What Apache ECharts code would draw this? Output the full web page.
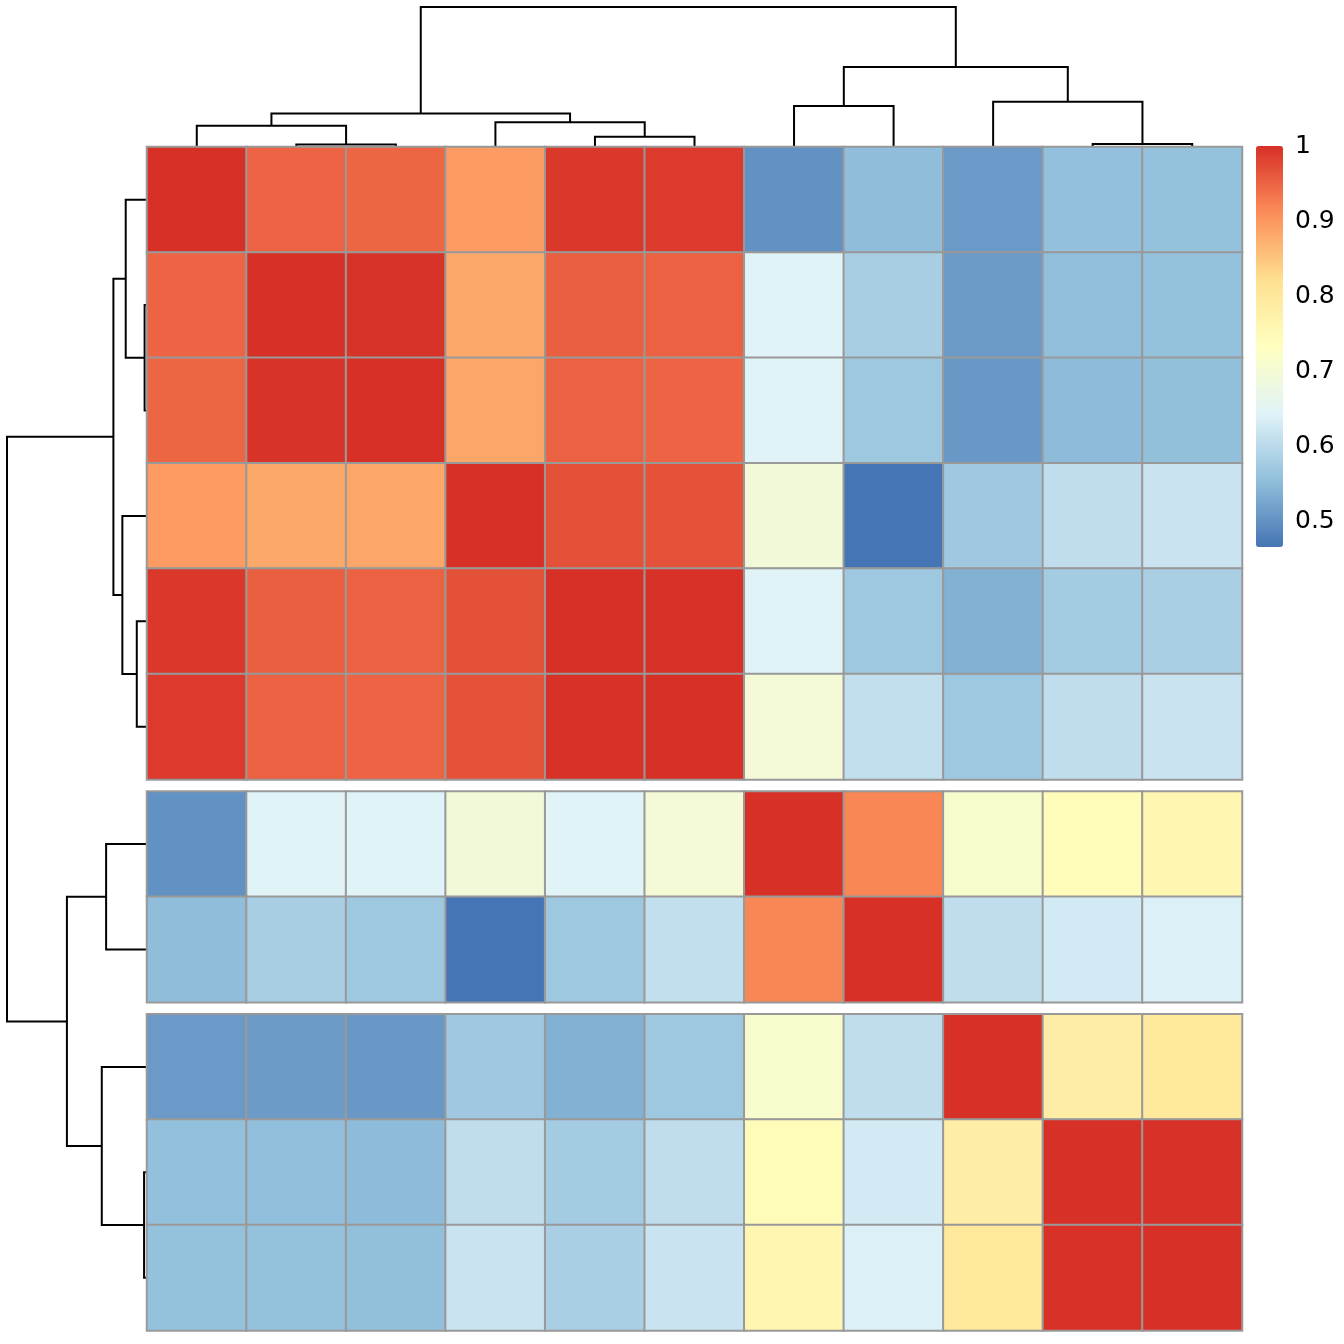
<!DOCTYPE html>
<html>
<head>
<meta charset="utf-8">
<title>heatmap</title>
<script src="https://cdn.jsdelivr.net/npm/echarts@6/dist/echarts.min.js"></script>
<style>
  html, body { margin: 0; padding: 0; background: #fff; }
  #chart { width: 1344px; height: 1344px; }
</style>
</head>
<body>
<div id="chart"></div>
<script>
// correlation matrix, rows and columns in clustered order
const matrix = [
  [1.000, 0.950, 0.948, 0.895, 0.992, 0.990, 0.500, 0.553, 0.511, 0.557, 0.558],
  [0.950, 1.000, 0.997, 0.882, 0.955, 0.953, 0.645, 0.580, 0.512, 0.554, 0.558],
  [0.948, 0.997, 1.000, 0.884, 0.952, 0.950, 0.645, 0.570, 0.508, 0.550, 0.556],
  [0.895, 0.882, 0.884, 1.000, 0.968, 0.967, 0.692, 0.466, 0.572, 0.607, 0.618],
  [0.992, 0.955, 0.952, 0.968, 1.000, 0.998, 0.645, 0.570, 0.538, 0.575, 0.583],
  [0.990, 0.953, 0.950, 0.967, 0.998, 1.000, 0.698, 0.610, 0.570, 0.607, 0.618],
  [0.500, 0.645, 0.645, 0.692, 0.645, 0.698, 1.000, 0.918, 0.713, 0.742, 0.758],
  [0.553, 0.580, 0.570, 0.466, 0.570, 0.610, 0.918, 1.000, 0.607, 0.628, 0.640],
  [0.511, 0.512, 0.508, 0.572, 0.538, 0.570, 0.713, 0.607, 1.000, 0.785, 0.800],
  [0.557, 0.554, 0.550, 0.607, 0.575, 0.607, 0.742, 0.628, 0.785, 1.000, 0.998],
  [0.558, 0.558, 0.556, 0.618, 0.583, 0.618, 0.758, 0.640, 0.800, 0.998, 1.000]
]

// hclust merges: [a, b, height]; id < 11 is a leaf, id 11 + k is merge k
const merges = [
  [1, 2, 0.017],
  [0, 11, 0.152],
  [4, 5, 0.073],
  [3, 13, 0.176],
  [12, 14, 0.240],
  [6, 7, 0.292],
  [9, 10, 0.021],
  [8, 17, 0.323],
  [16, 18, 0.572],
  [15, 19, 1.000]
]

// rows per cluster (cutree_rows = 3)
const rowBlocks = [6, 2, 3]

const legendTicks = [0.5, 0.6, 0.7, 0.8, 0.9, 1]
const colMin = 0.466
const colMax = 1
const palette = ['#4575B4', '#91BFDB', '#E0F3F8', '#FFFFBF', '#FEE090', '#FC8D59', '#D73027']

/* layout */
const N = matrix.length
const L = 147, W = 1095, T = 147
const GAP = 12
const CELL_H = 105.4
const FONT = 'DejaVu Sans'

// block of each row
const rowBlockOf = []
rowBlocks.forEach((n, b) => { for (let i = 0; i < n; i++) rowBlockOf.push(b) })
const gapUnit = GAP / CELL_H
const rowUnits = N + (rowBlocks.length - 1) * gapUnit

/* dendrogram segments */
function dendroSegments(leafPos) {
  const pos = leafPos.slice()
  const hgt = new Array(N).fill(0)
  const segs = []
  merges.forEach(([a, b, h]) => {
    segs.push([pos[a], hgt[a], pos[b], hgt[b], h])
    pos.push((pos[a] + pos[b]) / 2)
    hgt.push(h)
  })
  return segs
}
const colSegs = dendroSegments(matrix.map((_, i) => i))
const rowSegs = dendroSegments(matrix.map((_, i) => i + 0.5 + rowBlockOf[i] * gapUnit))

const chart = echarts.init(document.getElementById('chart'))

const grids = [
  { left: L, top: 7, width: W, height: T - 7 },          // column tree
  { left: 7, top: T, width: L - 7, height: N * CELL_H + GAP * 2 } // row tree
]
const xAxes = [
  { gridIndex: 0, type: 'value', min: -0.5, max: N - 0.5, show: false },
  { gridIndex: 1, type: 'value', min: 0, max: 1, inverse: true, show: false }
]
const yAxes = [
  { gridIndex: 0, type: 'value', min: 0, max: 1, show: false },
  { gridIndex: 1, type: 'value', min: 0, max: rowUnits, inverse: true, show: false }
]
const series = [
  {
    type: 'custom',
    xAxisIndex: 0,
    yAxisIndex: 0,
    data: colSegs,
    silent: true,
    renderItem: (params, api) => {
      const p1 = api.coord([api.value(0), api.value(1)])
      const p2 = api.coord([api.value(0), api.value(4)])
      const p3 = api.coord([api.value(2), api.value(4)])
      const p4 = api.coord([api.value(2), api.value(3)])
      return {
        type: 'polyline',
        shape: { points: [p1, p2, p3, p4] },
        style: { stroke: '#000', lineWidth: 2, fill: null }
      }
    }
  },
  {
    type: 'custom',
    xAxisIndex: 1,
    yAxisIndex: 1,
    data: rowSegs,
    silent: true,
    renderItem: (params, api) => {
      const p1 = api.coord([api.value(1), api.value(0)])
      const p2 = api.coord([api.value(4), api.value(0)])
      const p3 = api.coord([api.value(4), api.value(2)])
      const p4 = api.coord([api.value(3), api.value(2)])
      return {
        type: 'polyline',
        shape: { points: [p1, p2, p3, p4] },
        style: { stroke: '#000', lineWidth: 2, fill: null }
      }
    }
  }
]

// heatmap blocks
const heatIdx = []
let blockTop = T
let rowStart = 0
rowBlocks.forEach((n, b) => {
  const gi = grids.length
  grids.push({ left: L, top: blockTop, width: W, height: n * CELL_H })
  xAxes.push({ gridIndex: gi, type: 'category', data: matrix.map((_, i) => i), show: false })
  yAxes.push({ gridIndex: gi, type: 'category', data: Array.from({ length: n }, (_, i) => i), inverse: true, show: false })
  const data = []
  for (let r = 0; r < n; r++) {
    for (let c = 0; c < N; c++) data.push([c, r, matrix[rowStart + r][c]])
  }
  heatIdx.push(series.length)
  series.push({
    type: 'heatmap',
    xAxisIndex: gi,
    yAxisIndex: gi,
    data: data,
    silent: true,
    itemStyle: { borderColor: '#999999', borderWidth: 2 },
    emphasis: { disabled: true }
  })
  blockTop += n * CELL_H + GAP
  rowStart += n
})

// legend tick labels
const lg = grids.length
grids.push({ left: 1256, top: 146, width: 27, height: 401 })
xAxes.push({ gridIndex: lg, type: 'value', show: false })
yAxes.push({
  gridIndex: lg,
  type: 'value',
  min: colMin,
  max: colMax,
  position: 'right',
  axisLine: { show: false },
  axisTick: { show: false },
  splitLine: { show: false },
  axisLabel: {
    customValues: legendTicks,
    margin: 12,
    padding: [5, 0, 0, 0],
    color: '#000',
    fontFamily: FONT,
    fontSize: 25,
    formatter: v => String(Math.round(v * 10) / 10)
  }
})

chart.setOption({
  backgroundColor: '#fff',
  animation: false,
  grid: grids,
  xAxis: xAxes,
  yAxis: yAxes,
  visualMap: {
    type: 'continuous',
    min: colMin,
    max: colMax,
    seriesIndex: heatIdx,
    calculable: false,
    left: 1256,
    top: 146,
    padding: 0,
    itemWidth: 27,
    itemHeight: 401,
    text: null,
    inRange: { color: palette }
  },
  series: series
})
</script>
</body>
</html>
